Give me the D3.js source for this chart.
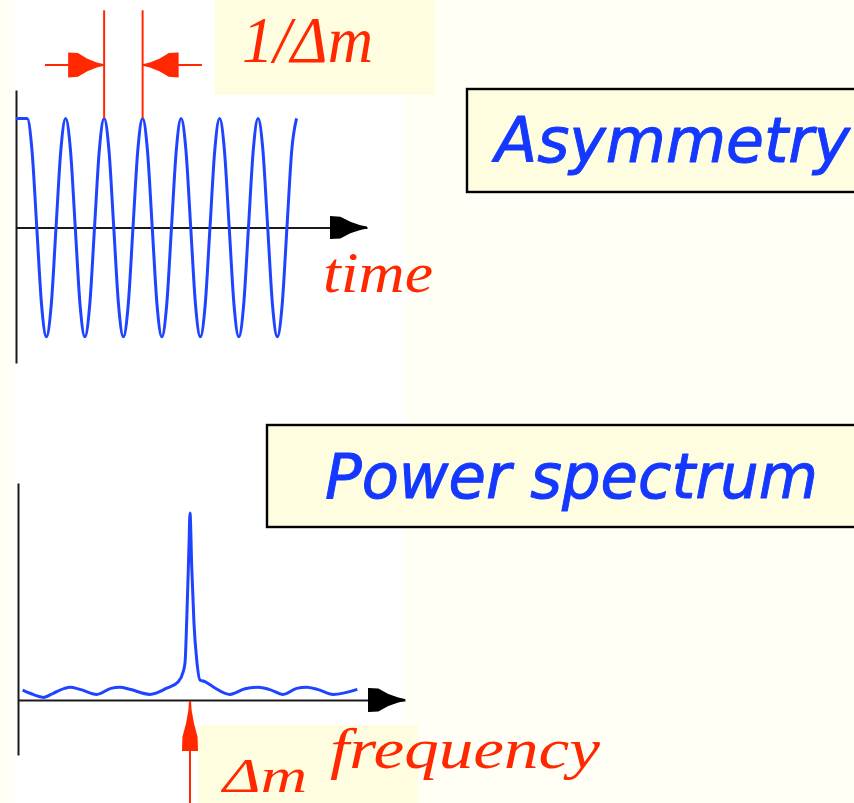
<!DOCTYPE html>
<html><head><meta charset="utf-8">
<script src="https://cdn.jsdelivr.net/npm/d3@7"></script>
<style>html,body{margin:0;padding:0;background:#fffff6;} svg{display:block;}</style>
</head><body>
<svg id="c" width="854" height="803"></svg>
<script>
// ---------- DATA ----------
// Time-domain oscillation (time in units of 1/Δm, amplitude normalised)
const waveTime = [0,
  0.29,0.415,0.54,0.665,0.79,0.915,1.04,1.165,
  1.29,1.415,1.54,1.665,1.79,1.915,2.04,2.165,
  2.29,2.415,2.54,2.665,2.79,2.915,3.04,3.165,
  3.29,3.415,3.54,3.665,3.79,3.915,4.04,4.165,
  4.29,4.415,4.54,4.665,4.79,4.915,5.04,5.165,
  5.29,5.415,5.54,5.665,5.79,5.915,6.04,6.165,
  6.29,6.415,6.54,6.665,6.79,6.915,7.04,7.165,
  7.29];
const waveAmp = [1,
  1,0.71,0,-0.71,-1,-0.71,0,0.71,
  1,0.71,0,-0.71,-1,-0.71,0,0.71,
  1,0.71,0,-0.71,-1,-0.71,0,0.71,
  1,0.71,0,-0.71,-1,-0.71,0,0.71,
  1,0.71,0,-0.71,-1,-0.71,0,0.71,
  1,0.71,0,-0.71,-1,-0.71,0,0.71,
  1,0.71,0,-0.71,-1,-0.71,0,0.71,
  1];
const periodMarkers = [2.29, 3.29];     // two consecutive maxima

// Power spectrum (frequency in units of Δm, power normalised)
const specFreq  = [0.027,0.07,0.147,0.205,0.27,0.302,0.36,0.458,0.54,0.593,0.65,0.767,0.865,0.932,0.96,0.971,0.981,0.994,1.0,1.01,1.023,1.039,1.058,1.087,1.134,1.233,1.32,1.397,1.46,1.542,1.62,1.678,1.74,1.833,1.973];
const specPower = [0.053,0.036,0.014,0.036,0.062,0.068,0.057,0.030,0.062,0.068,0.057,0.030,0.063,0.098,0.15,0.198,0.428,0.82,1.0,0.713,0.412,0.214,0.107,0.098,0.071,0.030,0.060,0.068,0.057,0.030,0.062,0.068,0.057,0.030,0.057];
const peakFreq = [1.0];

// Labels
const titleTop = "Asymmetry";
const titleBottom = "Power spectrum";
const periodLabel = "1/\u0394m";
const timeLabel = "time";
const peakLabel = "\u0394m";
const freqLabel = "frequency";

// ---------- STYLE ----------
const RED = "#ff2800", BLUE = "#1f44ff", INK = "#1a1a1a";
const BOX = "#fffde0";
const serif = "'Liberation Serif','DejaVu Serif',serif";
const comic = "'DejaVu Sans','Noto Sans',sans-serif";

const svg = d3.select("#c");
svg.append("rect").attr("x",0).attr("y",0).attr("width",854).attr("height",803).attr("fill","#fffff6");
svg.append("rect").attr("x",14).attr("y",0).attr("width",391).attr("height",803).attr("fill","#ffffff");

// arrowhead polygon, pointing +x, tip at origin
function arrowHead(g, tx, ty, angle, len, half, color){
  const pts = [[-len,-half],[-len*0.72,-half*0.95],[-len*0.45,-half*0.5],[-len*0.18,-half*0.2],[0,-1],
               [0,1],[-len*0.18,half*0.2],[-len*0.45,half*0.5],[-len*0.72,half*0.95],[-len,half]];
  g.append("path").attr("d", d3.line()(pts)+"Z")
    .attr("transform",`translate(${tx},${ty}) rotate(${angle})`)
    .attr("fill",color);
}

// ---------- TOP: time domain ----------
const xT = d3.scaleLinear().domain([0, 9.12]).range([16, 367]);
const yT = d3.scaleLinear().domain([-1.24, 1.26]).range([363, 90]);
const gTop = svg.append("g");

// period label box
gTop.append("rect").attr("x",215).attr("y",0).attr("width",220).attr("height",95).attr("fill",BOX);
gTop.append("text").attr("x",242).attr("y",62).text(periodLabel)
  .attr("font-family",serif).attr("font-style","italic").attr("font-size",66).attr("fill",RED)
  .attr("textLength",131).attr("lengthAdjust","spacingAndGlyphs");

// axes
const axT = gTop.append("g").attr("transform",`translate(0,${yT(0)})`)
  .call(d3.axisBottom(xT).tickValues([]).tickSizeOuter(0));
const ayT = gTop.append("g").attr("transform",`translate(${xT(0)},0)`)
  .call(d3.axisLeft(yT).tickValues([]).tickSizeOuter(0));
[axT, ayT].forEach(a => a.select(".domain").attr("stroke",INK).attr("stroke-width",2));
arrowHead(gTop, xT(9.12), yT(0), 0, 37, 11.5, "#000");

// wave
gTop.append("path")
  .datum(waveTime.map((t,i)=>[t, waveAmp[i]]))
  .attr("d", d3.line().x(d=>xT(d[0])).y(d=>yT(d[1])).curve(d3.curveMonotoneX))
  .attr("fill","none").attr("stroke",BLUE).attr("stroke-width",3);

// period markers
periodMarkers.forEach(t=>{
  gTop.append("line").attr("x1",xT(t)).attr("x2",xT(t)).attr("y1",yT(1.99)).attr("y2",yT(1))
    .attr("stroke",RED).attr("stroke-width",2);
});
const arrY = yT(1.489);
gTop.append("line").attr("x1",xT(0.753)).attr("x2",xT(periodMarkers[0])).attr("y1",arrY).attr("y2",arrY)
  .attr("stroke",RED).attr("stroke-width",2);
gTop.append("line").attr("x1",xT(periodMarkers[1])).attr("x2",xT(4.83)).attr("y1",arrY).attr("y2",arrY)
  .attr("stroke",RED).attr("stroke-width",2);
arrowHead(gTop, xT(periodMarkers[0])-1, arrY, 0, 35, 12.5, RED);
arrowHead(gTop, xT(periodMarkers[1])+1, arrY, 180, 35, 12.5, RED);

gTop.append("text").attr("x",323).attr("y",292).text(timeLabel)
  .attr("font-family",serif).attr("font-style","italic").attr("font-size",58).attr("fill",RED)
  .attr("textLength",110).attr("lengthAdjust","spacingAndGlyphs");

// title box
gTop.append("rect").attr("x",467).attr("y",89).attr("width",420).attr("height",103)
  .attr("fill",BOX).attr("stroke","#000").attr("stroke-width",2.4);
gTop.append("text").attr("x",495).attr("y",162).text(titleTop)
  .attr("font-family",comic).attr("font-style","italic").attr("font-size",62).attr("fill","#1438ff")
  .attr("stroke","#1438ff").attr("stroke-width",1).attr("stroke-linejoin","round")
  .attr("textLength",355).attr("lengthAdjust","spacingAndGlyphs");

// ---------- BOTTOM: power spectrum ----------
const xF = d3.scaleLinear().domain([0, 2.25]).range([18, 405]);
const yF = d3.scaleLinear().domain([-0.294, 1.16]).range([755, 483]);
const gBot = svg.append("g");

gBot.append("rect").attr("x",267).attr("y",425).attr("width",620).attr("height",102)
  .attr("fill",BOX).attr("stroke","#000").attr("stroke-width",2.4);
gBot.append("text").attr("x",325).attr("y",498).text(titleBottom)
  .attr("font-family",comic).attr("font-style","italic").attr("font-size",62).attr("fill","#1438ff")
  .attr("stroke","#1438ff").attr("stroke-width",1).attr("stroke-linejoin","round")
  .attr("textLength",493).attr("lengthAdjust","spacingAndGlyphs");

// Δm label box
gBot.append("rect").attr("x",198).attr("y",725).attr("width",220).attr("height",78).attr("fill",BOX);

const axF = gBot.append("g").attr("transform",`translate(0,${yF(0)})`)
  .call(d3.axisBottom(xF).tickValues([]).tickSizeOuter(0));
const ayF = gBot.append("g").attr("transform",`translate(${xF(0)},0)`)
  .call(d3.axisLeft(yF).tickValues([]).tickSizeOuter(0));
[axF, ayF].forEach(a => a.select(".domain").attr("stroke",INK).attr("stroke-width",2));
arrowHead(gBot, xF(2.25), yF(0), 0, 37, 12, "#000");

gBot.append("path")
  .datum(specFreq.map((f,i)=>[f, specPower[i]]))
  .attr("d", d3.line().x(d=>xF(d[0])).y(d=>yF(d[1])).curve(d3.curveMonotoneX))
  .attr("fill","none").attr("stroke",BLUE).attr("stroke-width",3);

peakFreq.forEach(f=>{
  gBot.append("line").attr("x1",xF(f)).attr("x2",xF(f)).attr("y1",yF(0)+2).attr("y2",803)
    .attr("stroke",RED).attr("stroke-width",2);
  arrowHead(gBot, xF(f), yF(0)+1, -90, 50, 8, RED);
});

gBot.append("text").attr("x",223).attr("y",792).text(peakLabel)
  .attr("font-family",serif).attr("font-style","italic").attr("font-size",48).attr("fill",RED)
  .attr("textLength",84).attr("lengthAdjust","spacingAndGlyphs");
gBot.append("text").attr("x",330).attr("y",768).text(freqLabel)
  .attr("font-family",serif).attr("font-style","italic").attr("font-size",58).attr("fill",RED)
  .attr("textLength",270).attr("lengthAdjust","spacingAndGlyphs");
</script>
</body></html>
